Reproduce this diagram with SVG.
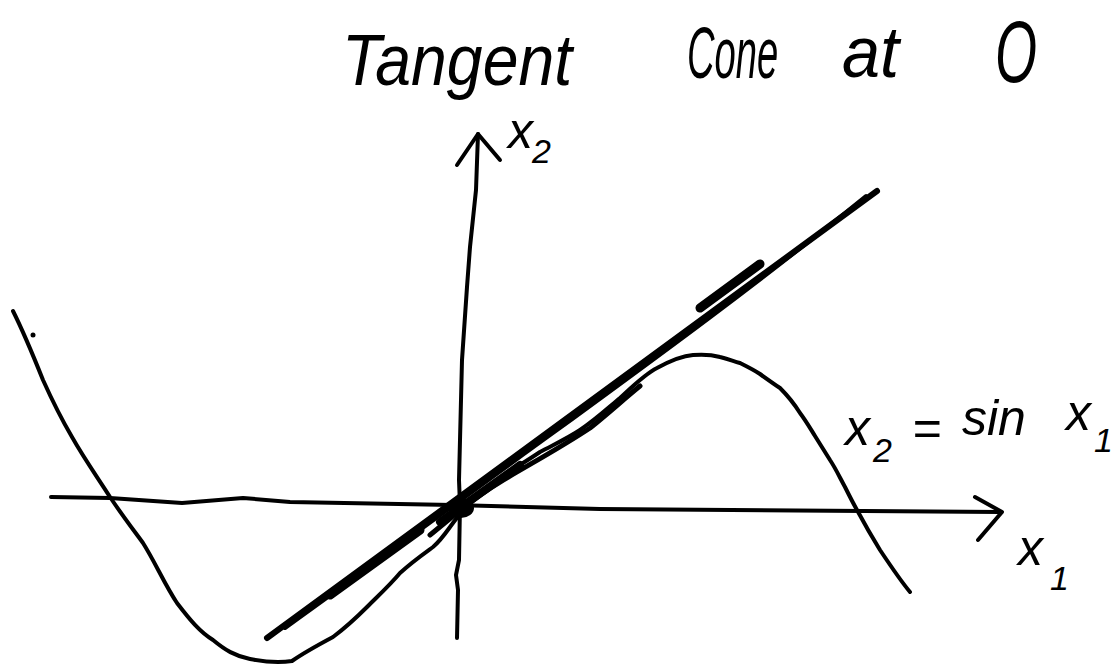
<svg xmlns="http://www.w3.org/2000/svg" width="1117" height="667" viewBox="0 0 1117 667">
<style>
.ink{fill:none;stroke:#000;stroke-linecap:round;stroke-linejoin:round}
.ax{stroke-width:4}
.cv{stroke-width:4}
.tg{stroke-width:6}
.hw{font-family:"Liberation Sans",Arial,sans-serif;font-style:italic;fill:#000}
.title{font-size:72px}
.lab{font-size:50px}
.sub{font-size:34px}
</style>
<rect width="1117" height="667" fill="#fff"/>
<g id="title">
<text class="hw title" x="342" y="85" textLength="230" lengthAdjust="spacingAndGlyphs">Tangent</text>
<text class="hw title" transform="translate(687,78) scale(0.53,1)" x="0" y="0">Cone</text>
<text class="hw title" x="842" y="77" textLength="57" lengthAdjust="spacingAndGlyphs">at</text>
<text class="hw" x="995" y="82" font-size="88" textLength="42" lengthAdjust="spacingAndGlyphs">O</text>
</g>
<g id="connectors">
<path id="x2-axis" class="ink ax" d="M457,638 L458,590 L456,575 L459,560 L460,505 L459,480 L462,360 L467,287 L470,247 L476,190 L478,134"/>
<path class="ink ax" d="M457,165 L478,134 L500,160"/>
<path id="x1-axis" class="ink ax" d="M51,497 L110,498 L182,503 L243,498 L290,502 L453,505 L600,509 L1000,512"/>
<path class="ink ax" d="M975,497 L1002,512 L978,540"/>
</g>
<g id="sine-curve">
<path class="ink cv" d="M13,311 C25,335 35,360 43,380 C52,400 62,420 72,437 C85,460 98,478 110,497 C122,515 132,528 143,543 C155,562 165,585 177,603 C190,620 200,632 213,640 C225,650 235,656 250,659 C265,662 280,663 292,661 C305,652 318,645 333,637 C345,628 356,618 367,607 C378,596 390,585 400,573 C412,562 422,555 433,547 C445,537 452,522 462,512 C475,498 488,487 500,478 C515,468 528,460 540,452 C555,444 568,438 580,430 C595,420 608,408 620,398 C633,386 645,374 657,368 C668,362 680,356 693,355 C705,354 713,355 720,357 C728,359 733,361 740,363 C748,367 754,370 760,374 C767,379 774,384 780,388 C788,396 795,405 800,413 C806,421 810,428 815,436 C820,444 825,452 830,460 C836,469 840,478 845,487 C849,495 853,503 857,510 C864,523 872,537 880,550 C890,565 900,580 910,592"/>
<path class="ink" stroke-width="5" d="M430,535 C455,515 470,500 500,482 C530,464 560,448 590,428 C610,412 625,398 640,386"/>
<circle cx="33" cy="335" r="2.5" fill="#000"/>
</g>
<g id="tangent-line">
<path class="ink tg" d="M267,638 L877,191"/>
<path class="ink" stroke-width="4" d="M285,628 C380,560 460,500 560,428 C660,355 760,282 866,196"/>
<path class="ink" stroke-width="9" d="M330,595 L420,530"/>
<path class="ink" stroke-width="9" d="M700,308 L760,264"/>
<ellipse cx="461" cy="508" rx="13" ry="10" fill="#000"/>
<path class="ink" stroke-width="8" d="M440,522 L520,465"/>
</g>
<g id="labels">
<text class="hw lab" x="508" y="148">x<tspan class="sub" x="532" y="163">2</tspan></text>
<text class="hw lab" x="845" y="445">x<tspan class="sub" x="873" y="462">2</tspan><tspan x="912" y="445">=</tspan><tspan x="962" y="435">sin</tspan><tspan x="1066" y="430">x</tspan><tspan class="sub" x="1094" y="452">1</tspan></text>
<text class="hw lab" x="1018" y="565">x<tspan class="sub" x="1050" y="590">1</tspan></text>
</g>
</svg>
